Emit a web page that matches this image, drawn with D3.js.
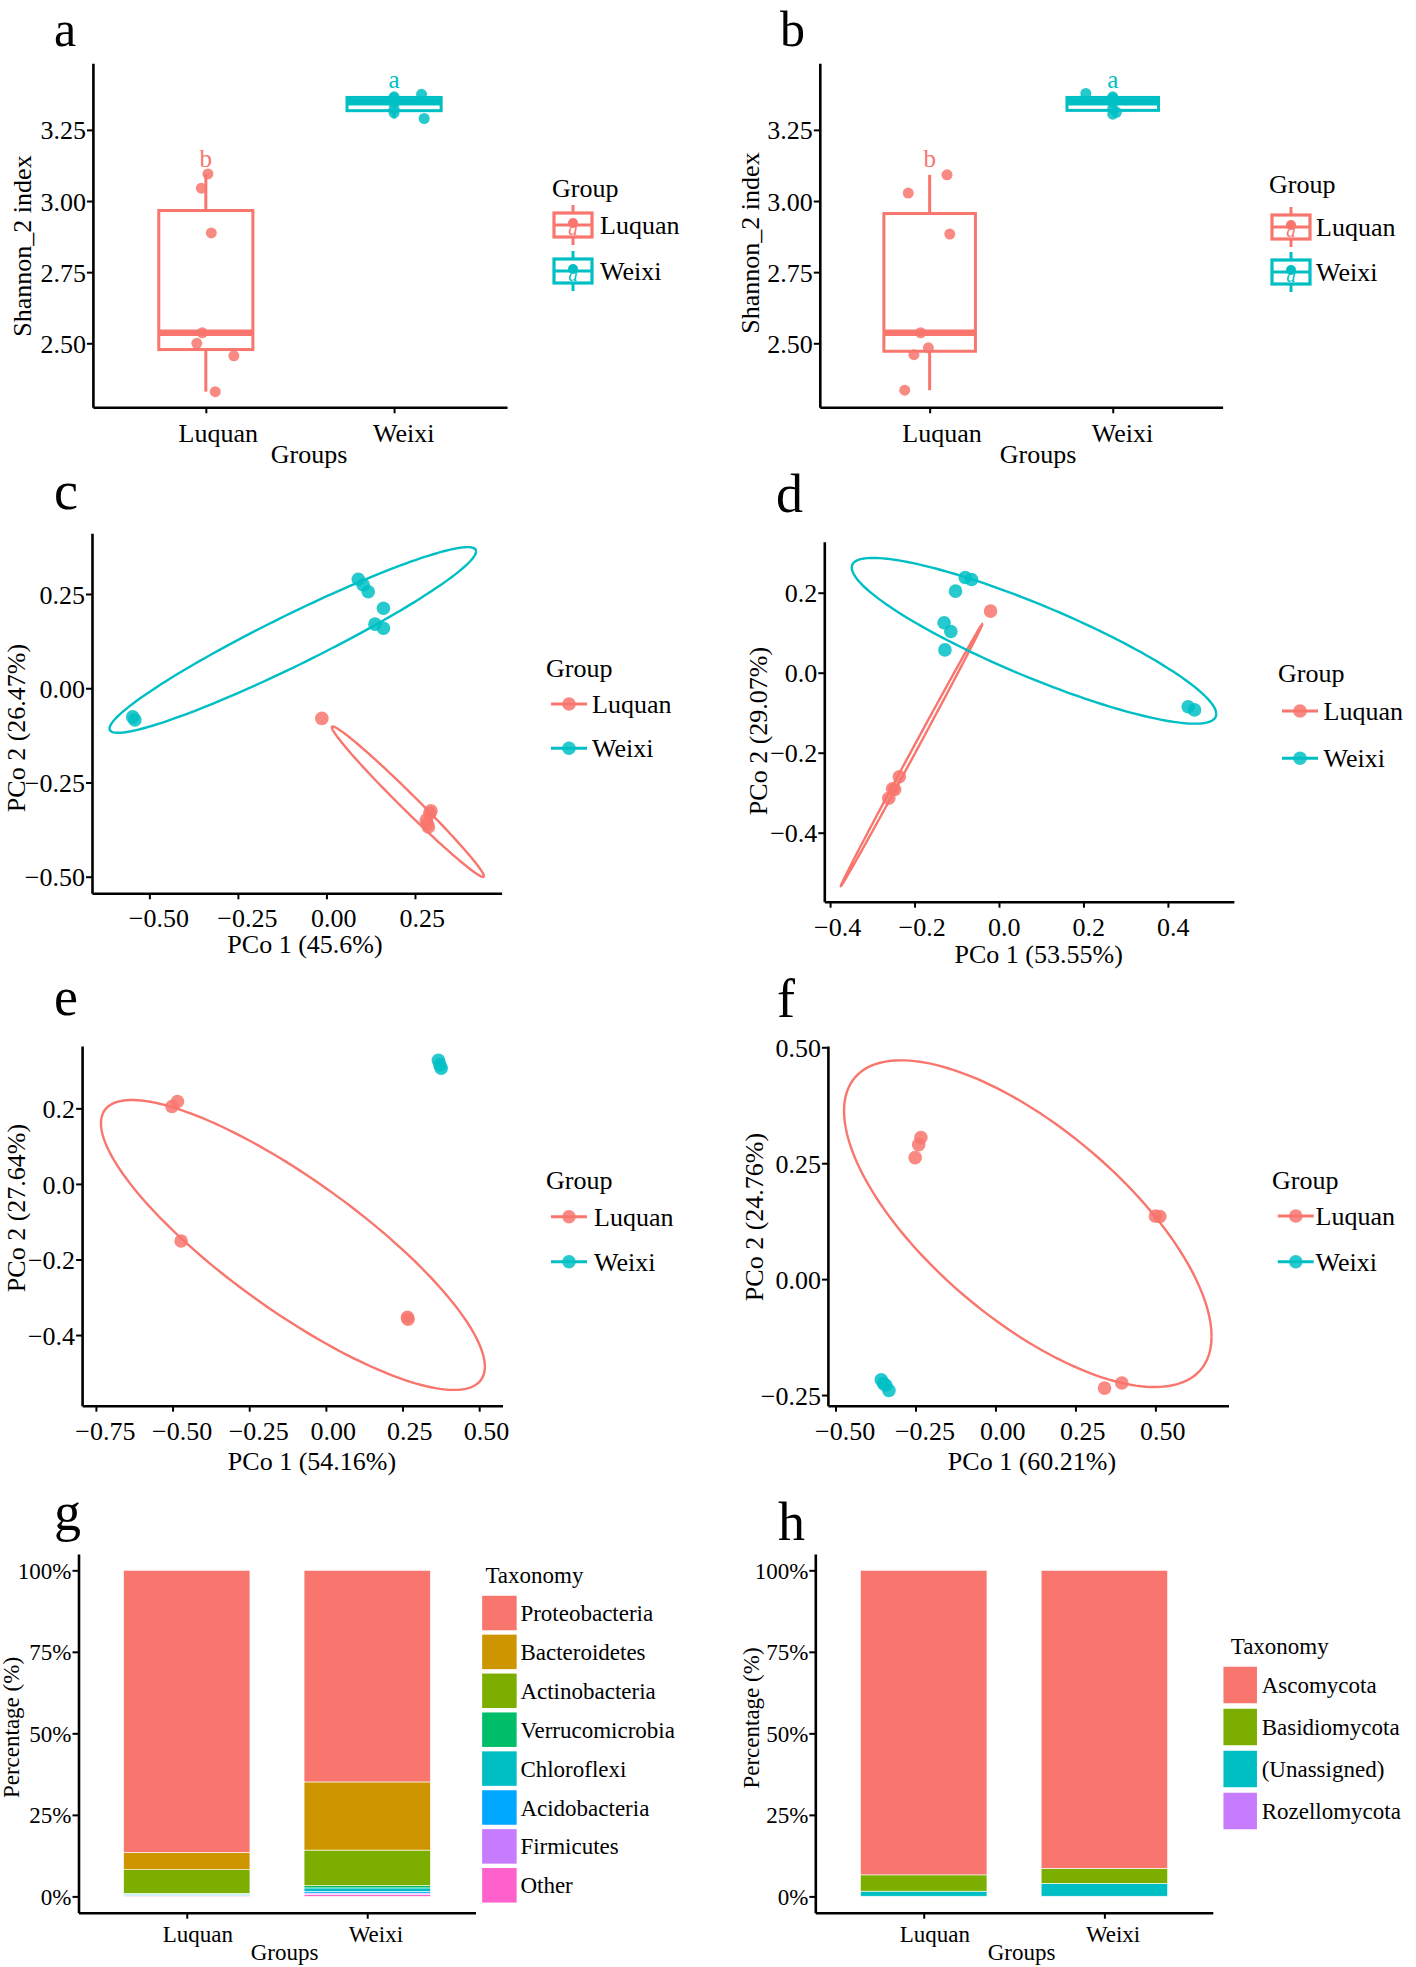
<!DOCTYPE html>
<html><head><meta charset="utf-8">
<script src="https://cdn.jsdelivr.net/npm/d3@7"></script>
<style>body{margin:0;background:#fff}svg{display:block}text{font-family:"Liberation Serif","Times New Roman",serif}</style>
</head><body><script>
// ---------------- DATA ----------------
const groups = ["Luquan", "Weixi"];
const groupColors = ["#F8766D", "#00BFC4"];

// Panel a: Shannon_2 index per sample
const shannonALuquan = [3.095, 3.045, 2.888, 2.537, 2.500, 2.456, 2.330];
const shannonAWeixi  = [3.375, 3.366, 3.362, 3.347, 3.325, 3.310, 3.290];
const jitterALuquan  = [0.011, -0.024, 0.029, -0.019, -0.048, 0.149, 0.050];
const jitterAWeixi   = [0.146, 0.0, 0.0, 0.0, 0.0, 0.0, 0.160];
// Panel b
const shannonBLuquan = [3.092, 3.028, 2.884, 2.537, 2.484, 2.460, 2.335];
const shannonBWeixi  = [3.378, 3.366, 3.362, 3.347, 3.325, 3.312, 3.305];
const jitterBLuquan  = [0.095, -0.117, 0.110, -0.049, -0.007, -0.086, -0.136];
const jitterBWeixi   = [-0.147, 0.0, 0.0, 0.0, 0.0, 0.020, 0.0];
const shannonDomain  = [2.275, 3.484];
const shannonTicks   = [2.50, 2.75, 3.00, 3.25];
const sigLetters     = ["b", "a"];
const sigLetterY     = [3.121, 3.397];

// Panels c-f: PCoA coordinates [PCo1, PCo2]
const pcoaCLuquan = [[-0.013, -0.080], [0.292, -0.332], [0.282, -0.350], [0.288, -0.368], [0.295, -0.325], [0.285, -0.360]];
const pcoaCWeixi  = [[0.090, 0.289], [0.104, 0.274], [0.118, 0.256], [0.161, 0.212], [0.137, 0.170], [0.161, 0.159], [-0.547, -0.076], [-0.541, -0.084]];
const pcoaDLuquan = [[-0.020, 0.154], [-0.236, -0.260], [-0.247, -0.292], [-0.261, -0.314], [-0.252, -0.290]];
const pcoaDWeixi  = [[-0.080, 0.238], [-0.065, 0.233], [-0.103, 0.204], [-0.130, 0.125], [-0.114, 0.103], [-0.128, 0.057], [0.448, -0.085], [0.463, -0.093]];
const pcoaELuquan = [[-0.484, 0.218], [-0.502, 0.205], [-0.472, -0.151], [0.266, -0.353], [0.268, -0.358]];
const pcoaEWeixi  = [[0.367, 0.327], [0.376, 0.306], [0.372, 0.315]];
const pcoaFLuquan = [[-0.233, 0.3055], [-0.240, 0.290], [-0.251, 0.262], [0.500, 0.136], [0.514, 0.135], [0.395, -0.224], [0.341, -0.235]];
const pcoaFWeixi  = [[-0.357, -0.217], [-0.343, -0.229], [-0.333, -0.240], [-0.350, -0.225]];
// 95% ellipses: [centre PCo1, centre PCo2, half-extent PCo1, half-extent PCo2, correlation]
const ellipseCLuquan = [0.230, -0.301, 0.2146, 0.1996, -0.9887];
const ellipseCWeixi  = [-0.095, 0.128, 0.5175, 0.2463, 0.954];
const ellipseDLuquan = [-0.2069, -0.2058, 0.1676, 0.3275, 0.9994];
const ellipseDWeixi  = [0.0829, 0.0798, 0.4316, 0.2072, -0.883];
const ellipseELuquan = [-0.1075, -0.1616, 0.626, 0.3837, -0.839];
const ellipseFLuquan = [0.1011, 0.1196, 0.5744, 0.3523, -0.69];
const domainCX = [-0.662, 0.4946], domainCY = [-0.544, 0.411];
const domainDX = [-0.4137, 0.5563], domainDY = [-0.5725, 0.3275];
const domainEX = [-0.795, 0.576], domainEY = [-0.587, 0.365];
const domainFX = [-0.5238, 0.7285], domainFY = [-0.273, 0.5028];
const ticksCX = [-0.50, -0.25, 0.00, 0.25], ticksCY = [-0.50, -0.25, 0.00, 0.25];
const ticksDX = [-0.4, -0.2, 0.0, 0.2, 0.4], ticksDY = [-0.4, -0.2, 0.0, 0.2];
const ticksEX = [-0.75, -0.50, -0.25, 0.00, 0.25, 0.50], ticksEY = [-0.4, -0.2, 0.0, 0.2];
const ticksFX = [-0.50, -0.25, 0.00, 0.25, 0.50], ticksFY = [-0.25, 0.00, 0.25, 0.50];
const axisTitleC = ["PCo 1 (45.6%)", "PCo 2 (26.47%)"];
const axisTitleD = ["PCo 1 (53.55%)", "PCo 2 (29.07%)"];
const axisTitleE = ["PCo 1 (54.16%)", "PCo 2 (27.64%)"];
const axisTitleF = ["PCo 1 (60.21%)", "PCo 2 (24.76%)"];

// Panel g: bacterial phyla (%)
const bacteriaTaxa   = ["Proteobacteria", "Bacteroidetes", "Actinobacteria", "Verrucomicrobia", "Chloroflexi", "Acidobacteria", "Firmicutes", "Other"];
const bacteriaLuquan = [86.5, 5.3, 7.3, 0.1, 0.2, 0.3, 0.1, 0.2];
const bacteriaWeixi  = [64.9, 20.9, 10.9, 0.7, 1.1, 0.5, 0.4, 0.6];
const bacteriaColors = ["#F8766D", "#CD9600", "#7CAE00", "#00BE67", "#00BFC4", "#00A9FF", "#C77CFF", "#FF61CC"];
// Panel h: fungal phyla (%)
const fungiTaxa   = ["Ascomycota", "Basidiomycota", "(Unassigned)", "Rozellomycota"];
const fungiLuquan = [93.4, 5.0, 1.55, 0.05];
const fungiWeixi  = [91.4, 4.6, 3.95, 0.05];
const fungiColors = ["#F8766D", "#7CAE00", "#00BFC4", "#C77CFF"];
const percentTicks = [0, 0.25, 0.50, 0.75, 1.00];

// ---------------- DRAWING ----------------
const svg = d3.select("body").append("svg").attr("width", 1416).attr("height", 1967);
const FS = 26, FS2 = 23;

function panelLetter(t, x, y, fs) {
  svg.append("text").attr("x", x).attr("y", y).attr("font-size", fs || 54).attr("fill", "#000").text(t);
}
function styleAxis(sel, fs) {
  sel.attr("font-family", null).attr("font-size", null);
  sel.select(".domain").attr("stroke", "#000").attr("stroke-width", 2.6);
  sel.selectAll(".tick line").attr("stroke", "#000").attr("stroke-width", 2);
  sel.selectAll(".tick text").attr("font-size", fs).attr("fill", "#000");
}
function drawAxes(fr, x, y, xVals, xFmt, yVals, yFmt, fs, xOff) {
  const gx = svg.append("g").attr("transform", `translate(0,${fr[3]})`)
    .call(d3.axisBottom(x).tickValues(xVals).tickFormat(xFmt).tickSize(6).tickSizeOuter(0));
  styleAxis(gx, fs);
  gx.selectAll(".tick text").attr("y", xOff).attr("dy", null).each(function () {
    const w = this.getComputedTextLength();
    d3.select(this).attr("x", 0.15 * w);
  });
  const gy = svg.append("g").attr("transform", `translate(${fr[0]},0)`)
    .call(d3.axisLeft(y).tickValues(yVals).tickFormat(yFmt).tickSize(6).tickSizeOuter(0));
  styleAxis(gy, fs);
  gy.selectAll(".tick text").attr("x", -7).attr("dy", "0.35em");
}
function xTitle(t, x, y, fs) {
  svg.append("text").attr("x", x).attr("y", y).attr("text-anchor", "middle").attr("font-size", fs).text(t);
}
function yTitle(t, x, y, fs) {
  svg.append("text").attr("transform", `translate(${x},${y}) rotate(-90)`).attr("text-anchor", "middle")
    .attr("dominant-baseline", "central").attr("font-size", fs).text(t);
}

// ---- boxplot panels ----
function boxPanel(fr, data, jit, legend) {
  const x = d3.scalePoint().domain(groups).range([fr[0], fr[2]]).padding(0.6);
  const y = d3.scaleLinear().domain(shannonDomain).range([fr[3], fr[1]]);
  const bw = x.step() * 0.5;
  const g = svg.append("g");
  groups.forEach((grp, i) => {
    const v = data[i].slice().sort(d3.ascending);
    const q1 = d3.quantile(v, 0.25), med = d3.quantile(v, 0.5), q3 = d3.quantile(v, 0.75), iqr = q3 - q1;
    const lo = d3.min(v.filter(d => d >= q1 - 1.5 * iqr)), hi = d3.max(v.filter(d => d <= q3 + 1.5 * iqr));
    const cx = x(grp), col = groupColors[i];
    g.append("line").attr("x1", cx).attr("x2", cx).attr("y1", y(hi)).attr("y2", y(q3)).attr("stroke", col).attr("stroke-width", 3);
    g.append("line").attr("x1", cx).attr("x2", cx).attr("y1", y(q1)).attr("y2", y(lo)).attr("stroke", col).attr("stroke-width", 3);
    g.append("rect").attr("x", cx - bw / 2).attr("y", y(q3)).attr("width", bw).attr("height", y(q1) - y(q3))
      .attr("fill", "#fff").attr("stroke", col).attr("stroke-width", 3);
    g.append("line").attr("x1", cx - bw / 2).attr("x2", cx + bw / 2).attr("y1", y(med)).attr("y2", y(med))
      .attr("stroke", col).attr("stroke-width", 6.5);
    g.selectAll(null).data(data[i]).enter().append("circle")
      .attr("cx", (d, j) => cx + jit[i][j] * x.step()).attr("cy", d => y(d)).attr("r", 5.5)
      .attr("fill", col).attr("fill-opacity", 0.85);
    g.append("text").attr("x", cx).attr("y", y(sigLetterY[i])).attr("text-anchor", "middle")
      .attr("font-size", 25).attr("fill", col).text(sigLetters[i]);
  });
  drawAxes(fr, x, y, groups, d => d, shannonTicks, d3.format(".2f"), FS, 35);
  // legend
  const L = legend;
  svg.append("text").attr("x", L.tx).attr("y", L.ty).attr("font-size", FS).text("Group");
  groups.forEach((grp, i) => {
    const col = groupColors[i], cx = L.kx, cy = L.ky[i];
    const k = svg.append("g");
    k.append("line").attr("x1", cx).attr("x2", cx).attr("y1", cy - 20).attr("y2", cy + 20).attr("stroke", col).attr("stroke-width", 3);
    k.append("rect").attr("x", cx - 19).attr("y", cy - 12).attr("width", 38).attr("height", 24)
      .attr("fill", "#fff").attr("stroke", col).attr("stroke-width", 3.2);
    k.append("line").attr("x1", cx - 19).attr("x2", cx + 19).attr("y1", cy).attr("y2", cy).attr("stroke", col).attr("stroke-width", 3);
    k.append("circle").attr("cx", cx).attr("cy", cy - 2).attr("r", 5).attr("fill", col);
    k.append("text").attr("x", cx).attr("y", cy + 10).attr("text-anchor", "middle").attr("font-size", 19)
      .attr("font-style", "italic").attr("fill", col).text("a");
    svg.append("text").attr("x", L.lx).attr("y", cy).attr("dy", "0.35em").attr("font-size", FS).text(grp);
  });
}

// ---- PCoA panels ----
function ellipsePoints(e) {
  const [cx, cy, rx, ry, rho] = e, s = Math.sqrt(1 - rho * rho);
  return d3.range(0, 361, 2).map(a => {
    const t = a * Math.PI / 180;
    return [cx + rx * Math.cos(t), cy + ry * (rho * Math.cos(t) + s * Math.sin(t))];
  });
}
function pcoaPanel(fr, xDom, yDom, pts, ells, xT, xF, yT, yF, titles, tpos, legend) {
  const x = d3.scaleLinear().domain(xDom).range([fr[0], fr[2]]);
  const y = d3.scaleLinear().domain(yDom).range([fr[3], fr[1]]);
  const line = d3.line().x(d => x(d[0])).y(d => y(d[1]));
  const g = svg.append("g");
  ells.forEach((e, i) => {
    if (!e) return;
    g.append("path").attr("d", line(ellipsePoints(e))).attr("fill", "none")
      .attr("stroke", groupColors[i]).attr("stroke-width", 2.4);
  });
  pts.forEach((p, i) => {
    g.selectAll(null).data(p).enter().append("circle")
      .attr("cx", d => x(d[0])).attr("cy", d => y(d[1])).attr("r", 6.8)
      .attr("fill", groupColors[i]).attr("fill-opacity", 0.85);
  });
  drawAxes(fr, x, y, xT, xF, yT, yF, FS, 34);
  xTitle(titles[0], tpos[0], tpos[1], FS);
  yTitle(titles[1], tpos[2], tpos[3], FS);
  const L = legend;
  svg.append("text").attr("x", L.tx).attr("y", L.ty).attr("font-size", FS).text("Group");
  groups.forEach((grp, i) => {
    const col = groupColors[i], cy = L.ky[i];
    svg.append("line").attr("x1", L.k0).attr("x2", L.k1).attr("y1", cy).attr("y2", cy).attr("stroke", col).attr("stroke-width", 3);
    svg.append("circle").attr("cx", (L.k0 + L.k1) / 2).attr("cy", cy).attr("r", 6.8).attr("fill", col).attr("fill-opacity", 0.85);
    svg.append("text").attr("x", L.lx).attr("y", cy).attr("dy", "0.35em").attr("font-size", FS).text(grp);
  });
}

// ---- stacked bar panels ----
function barPanel(fr, taxa, vals, colors, legend) {
  const x = d3.scalePoint().domain(groups).range([fr[0], fr[2]]).padding(0.6);
  const y = d3.scaleLinear().domain([-0.05, 1.05]).range([fr[3], fr[1]]);
  const rows = groups.map((grp, i) => {
    const o = { group: grp };
    taxa.forEach((t, k) => o[t] = vals[i][k] / 100);
    return o;
  });
  const keys = taxa.slice().reverse();
  const series = d3.stack().keys(keys)(rows);
  const bw = x.step() * 0.7;
  const g = svg.append("g");
  series.forEach(s => {
    const col = colors[taxa.indexOf(s.key)];
    g.selectAll(null).data(s).enter().append("rect")
      .attr("x", d => x(d.data.group) - bw / 2).attr("width", bw)
      .attr("y", d => y(d[1])).attr("height", d => Math.max(0, y(d[0]) - y(d[1])))
      .attr("fill", col).attr("stroke", "#fff").attr("stroke-width", 0.6);
  });
  drawAxes(fr, x, y, groups, d => d, percentTicks, d3.format(".0%"), FS2, 29);
  const L = legend;
  svg.append("text").attr("x", L.tx).attr("y", L.ty).attr("font-size", FS2).text("Taxonomy");
  taxa.forEach((t, k) => {
    const top = L.k0 + k * L.step;
    svg.append("rect").attr("x", L.kx).attr("y", top).attr("width", L.kw).attr("height", L.kh)
      .attr("fill", colors[k]).attr("stroke", "#fff").attr("stroke-width", 1.5);
    svg.append("text").attr("x", L.lx).attr("y", top + L.kh / 2).attr("dy", "0.35em").attr("font-size", FS2).text(t);
  });
}

// ---------- panels ----------
panelLetter("a", 54, 45.5, 50);
boxPanel([92.9, 63.3, 507, 407.3], [shannonALuquan, shannonAWeixi], [jitterALuquan, jitterAWeixi],
  { tx: 552, ty: 197, kx: 573, ky: [225, 271], lx: 600 });
xTitle("Groups", 309, 463, FS);
yTitle("Shannon_2 index", 22.4, 246, FS);

panelLetter("b", 780, 45.5, 50);
boxPanel([819.8, 63.3, 1222.6, 407.3], [shannonBLuquan, shannonBWeixi], [jitterBLuquan, jitterBWeixi],
  { tx: 1269, ty: 193, kx: 1291, ky: [227, 272], lx: 1316 });
xTitle("Groups", 1038, 463, FS);
yTitle("Shannon_2 index", 750, 243, FS);

panelLetter("c", 54, 509);
pcoaPanel([92, 533.3, 501.6, 893.3], domainCX, domainCY, [pcoaCLuquan, pcoaCWeixi], [ellipseCLuquan, ellipseCWeixi],
  ticksCX, d3.format(".2f"), ticksCY, d3.format(".2f"), axisTitleC, [305, 953, 16, 728],
  { tx: 546, ty: 677, k0: 551, k1: 587, ky: [704, 748.3], lx: 592 });

panelLetter("d", 776, 512);
pcoaPanel([824.3, 541.7, 1233.9, 901.7], domainDX, domainDY, [pcoaDLuquan, pcoaDWeixi], [ellipseDLuquan, ellipseDWeixi],
  ticksDX, d3.format(".1f"), ticksDY, d3.format(".1f"), axisTitleD, [1038.7, 963.3, 758, 731],
  { tx: 1278, ty: 682, k0: 1282, k1: 1318, ky: [711, 758.3], lx: 1323.6 });

panelLetter("e", 54, 1015);
pcoaPanel([82.1, 1046, 502.5, 1405.7], domainEX, domainEY, [pcoaELuquan, pcoaEWeixi], [ellipseELuquan, null],
  ticksEX, d3.format(".2f"), ticksEY, d3.format(".1f"), axisTitleE, [312, 1470, 16, 1208],
  { tx: 546, ty: 1189.3, k0: 551, k1: 587, ky: [1216.7, 1261.7], lx: 594 });

panelLetter("f", 777, 1017);
pcoaPanel([827.9, 1046, 1228.5, 1405.7], domainFX, domainFY, [pcoaFLuquan, pcoaFWeixi], [ellipseFLuquan, null],
  ticksFX, d3.format(".2f"), ticksFY, d3.format(".2f"), axisTitleF, [1032, 1470, 754, 1217],
  { tx: 1272, ty: 1189.3, k0: 1277.8, k1: 1313.7, ky: [1216, 1261.7], lx: 1315.5 });

panelLetter("g", 54, 1530);
barPanel([78.5, 1554, 475.5, 1912.7], bacteriaTaxa, [bacteriaLuquan, bacteriaWeixi], bacteriaColors,
  { tx: 485.4, ty: 1583.3, kx: 481.4, kw: 36, kh: 36, k0: 1595, step: 38.9, lx: 520.4 });
xTitle("Groups", 284.5, 1960, FS2);
yTitle("Percentage (%)", 11, 1727.5, FS2);

panelLetter("h", 778, 1540);
barPanel([815.3, 1554, 1212.8, 1912.7], fungiTaxa, [fungiLuquan, fungiWeixi], fungiColors,
  { tx: 1230.7, ty: 1654, kx: 1222.7, kw: 35, kh: 38, k0: 1666, step: 42, lx: 1261.7 });
xTitle("Groups", 1021.5, 1960, FS2);
yTitle("Percentage (%)", 751.6, 1718, FS2);
</script></body></html>
